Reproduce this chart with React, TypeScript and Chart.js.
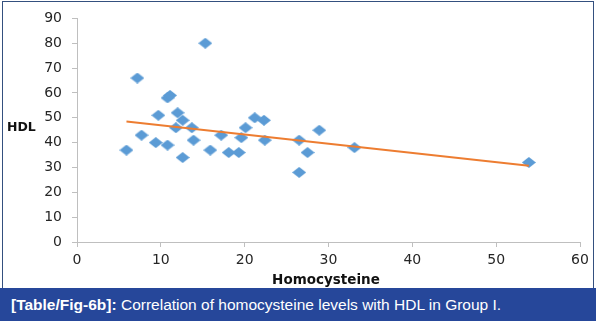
import React, { useEffect, useRef } from "react";
import { Chart, registerables } from "chart.js";

Chart.register(...registerables);

// Homocysteine (x) and HDL (y) values
const homocysteine = [5.9, 7.2, 7.7, 9.7, 9.4, 10.8, 11.1, 10.8, 12.0, 11.8, 12.6, 12.6, 13.7, 13.9, 15.3, 15.9, 17.2, 18.1, 19.3, 19.6, 20.1, 21.2, 22.3, 22.4, 26.5, 26.5, 27.5, 28.9, 33.1, 53.9];
const hdl = [37, 66, 43, 51, 40, 58, 59, 39, 52, 46, 49, 34, 46, 41, 80, 37, 43, 36, 36, 42, 46, 50, 49, 41, 41, 28, 36, 45, 38, 32];

// Linear trendline end points (as drawn in the reference)
const trendX = [5.9, 53.9];
const trendY = [48.5, 30.7];

const xTitle = "Homocysteine";
const yTitle = "HDL";
const captionLabel = "[Table/Fig-6b]:";
const captionText = " Correlation of homocysteine levels with HDL in Group I.";

function makeDiamond(w: number, h: number, color: string) {
  const c = document.createElement("canvas");
  c.width = w;
  c.height = h;
  const g = c.getContext("2d")!;
  g.fillStyle = color;
  g.beginPath();
  g.moveTo(w / 2, 0);
  g.lineTo(w, h / 2);
  g.lineTo(w / 2, h);
  g.lineTo(0, h / 2);
  g.closePath();
  g.fill();
  return c;
}

export default function App() {
  const ref = useRef<HTMLCanvasElement | null>(null);

  useEffect(() => {
    if (!ref.current) return;
    const diamond = makeDiamond(14, 11, "#5b9bd5");
    const titlesPlugin = {
      id: "titles",
      afterDraw(chart: any) {
        const ctx = chart.ctx;
        ctx.save();
        ctx.fillStyle = "#111";
        ctx.textBaseline = "middle";
        ctx.font = 'bold 12.5px "DejaVu Sans"';
        ctx.textAlign = "left";
        ctx.fillText(yTitle, 7, 128);
        ctx.font = 'bold 13.5px "DejaVu Sans"';
        ctx.textAlign = "center";
        ctx.fillText(xTitle, 326, 280);
        ctx.restore();
      },
    };
    const chart = new Chart(ref.current, {
      type: "scatter",
      data: {
        datasets: [
          {
            type: "line",
            label: "Trend",
            data: trendX.map((x, i) => ({ x, y: trendY[i] })),
            borderColor: "#ed7d31",
            borderWidth: 2,
            pointRadius: 0,
            showLine: true,
            fill: false,
            order: 0,
          },
          {
            label: "HDL",
            data: homocysteine.map((x, i) => ({ x, y: hdl[i] })),
            pointStyle: diamond as any,
            backgroundColor: "#5b9bd5",
            borderColor: "#5b9bd5",
            order: 1,
          },
        ],
      },
      options: {
        responsive: false,
        animation: false,
        layout: { padding: { left: 0, right: 16, top: 10, bottom: 0 } },
        plugins: { legend: { display: false }, tooltip: { enabled: false } },
        scales: {
          x: {
            type: "linear",
            min: 0,
            max: 60,
            ticks: { stepSize: 10, color: "#262626", padding: 5, font: { family: "DejaVu Sans", size: 14 } },
            grid: { drawOnChartArea: false, drawTicks: true, tickLength: 5, color: "#bfbfbf" },
            border: { color: "#bfbfbf", width: 1 },
            afterFit: (s: any) => { s.height = 46; },
          },
          y: {
            type: "linear",
            min: 0,
            max: 90,
            ticks: { stepSize: 10, color: "#262626", padding: 10, font: { family: "DejaVu Sans", size: 14 } },
            grid: { drawOnChartArea: false, drawTicks: true, tickLength: 5, color: "#bfbfbf" },
            border: { color: "#bfbfbf", width: 1 },
            afterFit: (s: any) => { s.width = 77; },
          },
        },
      },
      plugins: [titlesPlugin],
    });
    return () => chart.destroy();
  }, []);

  return (
    <div style={{ position: "fixed", left: 0, top: 0, width: 596, height: 321, background: "#fff", overflow: "hidden" }}>
      <canvas ref={ref} width={596} height={288} style={{ position: "absolute", left: 0, top: 0 }} />
      <div style={{ position: "absolute", left: 2, top: 1, width: 590, height: 290, border: "1.5px solid #34507f", borderBottom: "none", pointerEvents: "none" }} />
      <div
        style={{
          position: "absolute",
          left: 0,
          top: 288,
          width: 596,
          height: 33,
          background: "#26479a",
          color: "#fff",
          fontFamily: '"Liberation Sans", Arial, sans-serif',
          fontSize: 15.5,
          lineHeight: "33px",
          paddingLeft: 11,
          boxSizing: "border-box",
          whiteSpace: "nowrap",
        }}
      >
        <b>{captionLabel}</b>
        {captionText}
      </div>
    </div>
  );
}
